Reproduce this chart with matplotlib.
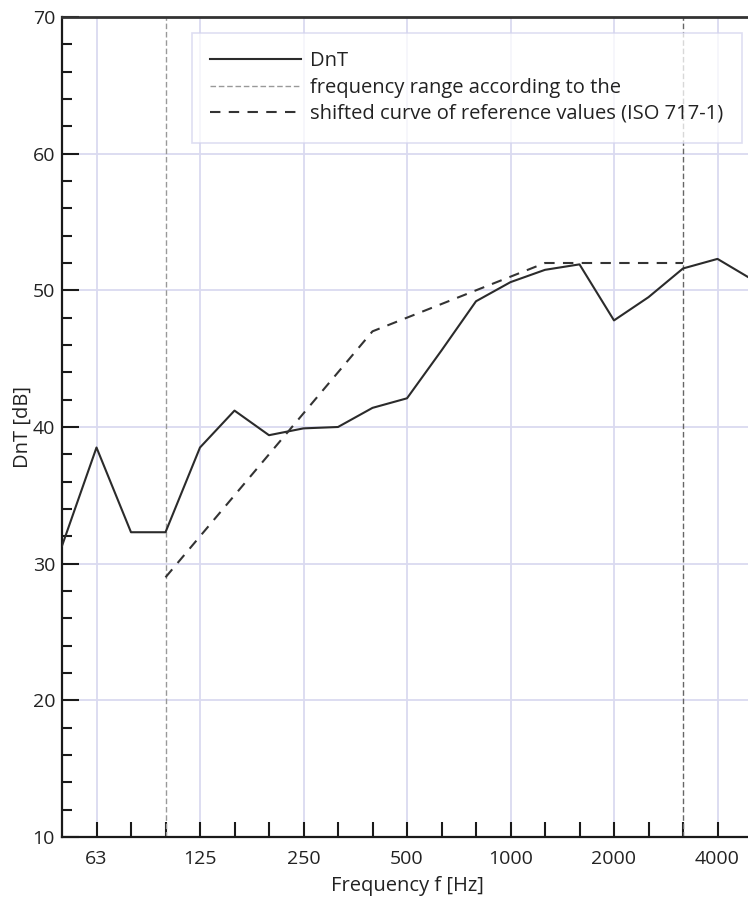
import matplotlib
matplotlib.use("Agg")
import matplotlib.pyplot as plt
from matplotlib.ticker import MultipleLocator, FixedLocator, FixedFormatter

plt.rcParams['font.family'] = ['Open Sans', 'DejaVu Sans']

# third-octave bands (Hz)
bands = [50, 63, 80, 100, 125, 160, 200, 250, 315, 400, 500, 630, 800,
         1000, 1250, 1600, 2000, 2500, 3150, 4000, 5000]
dnt = [31.3, 38.5, 32.3, 32.3, 38.5, 41.2, 39.4, 39.9, 40.0, 41.4, 42.1,
       45.6, 49.2, 50.6, 51.5, 51.9, 47.8, 49.5, 51.6, 52.3, 50.8]
ref_bands = [100, 125, 160, 200, 250, 315, 400, 500, 630, 800, 1000,
             1250, 1600, 2000, 2500, 3150]
ref_shifted = [29, 32, 35, 38, 41, 44, 47, 48, 49, 50, 51, 52, 52, 52, 52, 52]
range_limits = [100, 3150]
tick_labels = ["63", "125", "250", "500", "1000", "2000", "4000"]
tick_bands = [63, 125, 250, 500, 1000, 2000, 4000]

idx = {b: i for i, b in enumerate(bands)}

fig = plt.figure(figsize=(7.48, 9.0), dpi=100)
ax = fig.add_axes([62/748, 63/900, 690/748, 820/900])

grid_c = '#dadaf0'
for b in tick_bands:
    ax.axvline(idx[b], color=grid_c, lw=1.3, zorder=0)
for y in range(20, 71, 10):
    ax.axhline(y, color=grid_c, lw=1.3, zorder=0)

x_dnt = [idx[b] for b in bands]
ax.plot(x_dnt, dnt, color='#2b2b2b', lw=1.5, label='DnT', zorder=3)

ax.axvline(idx[range_limits[0]], color='#999999', lw=1.0, ls=(0, (4, 2)), zorder=2,
           label='frequency range according to the')
ax.axvline(idx[range_limits[1]], color='#666666', lw=1.0, ls=(0, (4, 2)), zorder=2)

x_ref = [idx[b] for b in ref_bands]
ax.plot(x_ref, ref_shifted, color='#333333', lw=1.5, ls=(0, (5, 4)),
        label='shifted curve of reference values (ISO 717-1)', zorder=3)

ax.set_xlim(0, 20)
ax.set_ylim(10, 70)

ax.xaxis.set_major_locator(FixedLocator([idx[b] for b in tick_bands]))
ax.xaxis.set_major_formatter(FixedFormatter(tick_labels))
ax.xaxis.set_minor_locator(FixedLocator([i for i in range(1, 20)]))
ax.yaxis.set_major_locator(MultipleLocator(10))
ax.yaxis.set_minor_locator(MultipleLocator(2))

ax.tick_params(axis='x', which='both', direction='in', length=11, width=1.5,
               color='#1a1a1a', labelsize=14, pad=9, labelcolor='#222222')
ax.tick_params(axis='y', which='major', direction='in', length=12, width=1.5,
               color='#1a1a1a', labelsize=14, pad=5, labelcolor='#222222')
ax.tick_params(axis='y', which='minor', direction='in', length=7, width=1.5,
               color='#1a1a1a')

for s in ['left', 'bottom']:
    ax.spines[s].set_linewidth(1.6)
    ax.spines[s].set_color('#1a1a1a')
ax.spines['top'].set_linewidth(2.0)
ax.spines['top'].set_color('#333333')
ax.spines['right'].set_visible(False)

ax.set_xlabel('Frequency f [Hz]', fontsize=14.5, color='#222222', labelpad=6)
ax.set_ylabel('DnT [dB]', fontsize=14.5, color='#222222', labelpad=0)

leg = ax.legend(loc='upper left', bbox_to_anchor=(0.188, 0.981), fontsize=14.5,
                frameon=True, fancybox=False, handlelength=4.5, handletextpad=0.45,
                borderpad=0.92, labelspacing=0.32, borderaxespad=0)
leg.get_frame().set_edgecolor('#d4d4ee')
leg.get_frame().set_facecolor('white')
leg.get_frame().set_alpha(0.75)
leg.get_frame().set_linewidth(1.2)
for t in leg.get_texts():
    t.set_color('#222222')

fig.savefig('out.png', dpi=100)
